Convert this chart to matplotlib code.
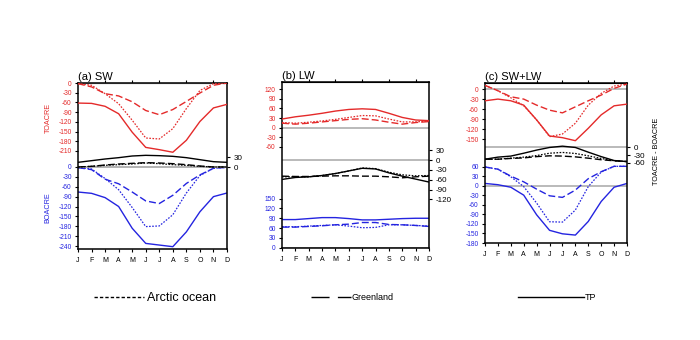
import matplotlib
matplotlib.use("Agg")
import matplotlib.pyplot as plt
from matplotlib.lines import Line2D

plt.rcParams["font.family"] = ["Liberation Sans", "DejaVu Sans"]
plt.rcParams["axes.unicode_minus"] = False

months = ["J", "F", "M", "A", "M", "J", "J", "A", "S", "O", "N", "D"]

# (a) SW cloud radiative effect (W m-2)
sw_toa_tp = [-62, -63, -72, -95, -152, -199, -206, -214, -177, -119, -77, -66]
sw_toa_gl = [-2, -12, -33, -40, -58, -85, -98, -82, -57, -31, -7, 0]
sw_toa_ao = [-2, -7, -33, -64, -115, -170, -173, -141, -79, -23, -2, 0]
sw_atm_tp = [14, 19, 24, 28, 33, 35, 34, 32, 28, 22, 16, 14]
sw_atm_gl = [0, 2, 6, 9, 11, 13, 12, 10, 7, 3, 0, 0]
sw_atm_ao = [0, 2, 5, 7, 9, 12, 10, 7, 5, 2, 0, 0]
sw_boa_tp = [-76, -80, -93, -120, -186, -232, -237, -242, -197, -136, -90, -79]
sw_boa_gl = [-2, -8, -37, -51, -76, -103, -111, -86, -50, -24, -4, -1]
sw_boa_ao = [-2, -6, -35, -69, -123, -181, -179, -145, -79, -26, -4, -1]

# (b) LW
lw_toa_tp = [27, 34, 39, 45, 52, 57, 59, 57, 45, 32, 24, 22]
lw_toa_gl = [14, 11, 14, 18, 22, 26, 28, 24, 17, 11, 16, 19]
lw_toa_ao = [16, 14, 17, 21, 26, 32, 38, 37, 27, 18, 18, 21]
lw_atm_tp = [-59, -53, -51, -47, -41, -33, -25, -27, -39, -49, -58, -67]
lw_atm_gl = [-49, -50, -50, -49, -48, -48, -49, -49, -51, -54, -51, -49]
lw_atm_ao = [-51, -51, -51, -47, -41, -33, -24, -26, -37, -45, -48, -47]
lw_boa_tp = [86, 86, 89, 92, 92, 89, 85, 85, 87, 89, 90, 90]
lw_boa_gl = [63, 63, 65, 67, 70, 72, 77, 77, 71, 70, 68, 65]
lw_boa_ao = [64, 64, 66, 68, 70, 66, 61, 62, 70, 70, 68, 66]

# (c) SW+LW
net_toa_tp = [-35, -30, -35, -48, -92, -140, -145, -154, -117, -77, -50, -45]
net_toa_gl = [11, -5, -23, -30, -48, -63, -71, -53, -35, -18, 2, 15]
net_toa_ao = [11, -5, -26, -50, -92, -142, -134, -102, -48, -13, 9, 15]
net_atm_tp = [-46, -38, -34, -23, -11, -1, 4, -1, -19, -36, -51, -55]
net_atm_gl = [-46, -46, -43, -41, -36, -33, -34, -37, -42, -48, -52, -55]
net_atm_ao = [-46, -46, -42, -38, -32, -23, -20, -24, -33, -43, -52, -55]
net_boa_tp = [8, 4, -4, -29, -91, -140, -151, -155, -112, -49, -4, 8]
net_boa_gl = [60, 53, 31, 13, -10, -31, -36, -13, 23, 45, 62, 62]
net_boa_ao = [60, 53, 29, -2, -54, -113, -114, -76, -2, 44, 62, 62]

RED = "#e42a2a"
BLUE = "#2424e0"
GRAY = "#b4b4b4"
DOT = (0, (1.3, 1.2))
DASH = (0, (5, 2.2))

panels = [
    dict(title="(a) SW", rect=[78, 83, 227, 249],
         toa=(sw_toa_tp, sw_toa_gl, sw_toa_ao), atm=(sw_atm_tp, sw_atm_gl, sw_atm_ao),
         boa=(sw_boa_tp, sw_boa_gl, sw_boa_ao),
         red_lim=(-513, 0), red_ticks=range(0, -211, -30),
         blk_lim=(-246, 252), blk_ticks=[30, 0],
         blu_lim=(-249, 255), blu_ticks=range(0, -241, -30)),
    dict(title="(b) LW", rect=[282, 82, 429, 248],
         toa=(lw_toa_tp, lw_toa_gl, lw_toa_ao), atm=(lw_atm_tp, lw_atm_gl, lw_atm_ao),
         boa=(lw_boa_tp, lw_boa_gl, lw_boa_ao),
         red_lim=(-377, 143), red_ticks=range(120, -61, -30),
         blk_lim=(-268, 238), blk_ticks=range(30, -121, -30),
         blu_lim=(-1, 507), blu_ticks=range(0, 151, 30)),
    dict(title="(c) SW+LW", rect=[485, 83, 627, 243],
         toa=(net_toa_tp, net_toa_gl, net_toa_ao), atm=(net_atm_tp, net_atm_gl, net_atm_ao),
         boa=(net_boa_tp, net_boa_gl, net_boa_ao),
         red_lim=(-459, 18), red_ticks=range(0, -151, -30),
         blk_lim=(-367, 246), blk_ticks=[0, -30, -60],
         blu_lim=(-180, 325), blu_ticks=range(60, -181, -30)),
]

W, H = 700, 340
fig = plt.figure(figsize=(7, 3.4), dpi=100)
fig.patch.set_facecolor("white")

x = list(range(len(months)))


def draw_set(ax, series, color):
    tp, gl, ao = series
    ax.axhline(0, color=GRAY, lw=1.3, zorder=1)
    ax.plot(x, tp, color=color, lw=1.0, zorder=3)
    ax.plot(x, gl, color=color, lw=1.0, ls=DASH, zorder=3)
    ax.plot(x, ao, color=color, lw=0.9, ls=DOT, zorder=3)


def bare(ax):
    ax.patch.set_visible(False)
    for s in ax.spines.values():
        s.set_visible(False)
    ax.set_xticks([])
    ax.set_xlim(0, 11)


for p in panels:
    l, t, r, b = p["rect"]
    rect = [l / W, 1 - b / H, (r - l) / W, (b - t) / H]

    ax_blu = fig.add_axes(rect)
    ax_blk = fig.add_axes(rect)
    ax_red = fig.add_axes(rect)

    # bottom block: BOA
    bare(ax_blu)
    draw_set(ax_blu, p["boa"], BLUE)
    ax_blu.set_ylim(*p["blu_lim"])
    ax_blu.set_yticks(list(p["blu_ticks"]))
    ax_blu.tick_params(axis="y", direction="out", length=2.5, width=0.8,
                       labelsize=4.8, labelcolor=BLUE, pad=2)

    # middle block: TOA - BOA, right axis
    bare(ax_blk)
    draw_set(ax_blk, p["atm"], "black")
    ax_blk.set_ylim(*p["blk_lim"])
    ax_blk.yaxis.tick_right()
    ax_blk.set_yticks(list(p["blk_ticks"]))
    ax_blk.tick_params(axis="y", direction="out", length=2.5, width=0.8,
                       labelsize=5.8, pad=2)

    # top block: TOA, carries the frame and month axis
    ax_red.patch.set_visible(False)
    draw_set(ax_red, p["toa"], RED)
    ax_red.set_xlim(0, 11)
    ax_red.set_ylim(*p["red_lim"])
    ax_red.set_yticks(list(p["red_ticks"]))
    ax_red.tick_params(axis="y", direction="out", length=2.5, width=0.8,
                       labelsize=4.8, labelcolor=RED, pad=2)
    ax_red.set_xticks(x)
    ax_red.set_xticklabels(months)
    ax_red.tick_params(axis="x", direction="out", length=2.5, width=0.8,
                       labelsize=5, pad=3)
    for s in ax_red.spines.values():
        s.set_linewidth(1.1)
    top = ax_red.secondary_xaxis("top")
    top.set_xticks([2, 4, 6, 8, 10])
    top.set_xticklabels([])
    top.tick_params(direction="out", length=2.5, width=0.8)
    ax_red.set_title(p["title"], loc="left", fontsize=8, pad=2)

fig.text(48 / W, 1 - 118 / H, "TOACRE", color=RED, fontsize=5.2,
         rotation=90, ha="center", va="center")
fig.text(48 / W, 1 - 208 / H, "BOACRE", color=BLUE, fontsize=5.2,
         rotation=90, ha="center", va="center")
fig.text(657 / W, 1 - 151 / H, "TOACRE - BOACRE", fontsize=5.2,
         rotation=90, ha="center", va="center")

# legends along the bottom, one per region
legends = [
    ("Arctic ocean", (0, (2.4, 1.5)), 94, 9, 4.0, 0.25),
    ("Greenland", (0, (13, 6)), 311, 6.5, 4.4, 0.1),
    ("TP", "-", 518, 6.5, 7.3, 0.05),
]
for label, ls, x0, fs, hl, tp in legends:
    h = Line2D([], [], color="black", lw=1.0, ls=ls)
    fig.legend(handles=[h], labels=[label], loc="center left",
               bbox_to_anchor=(x0 / W, 1 - 298 / H), frameon=False,
               fontsize=fs, handlelength=hl, handletextpad=tp,
               borderpad=0, borderaxespad=0)

fig.savefig("out.png", dpi=100)
